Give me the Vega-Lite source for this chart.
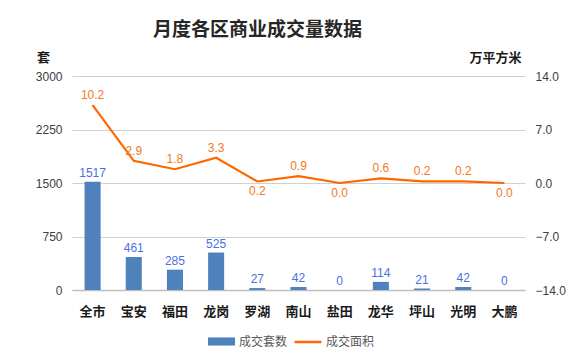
{
  "$schema": "https://vega.github.io/schema/vega-lite/v6.json",
  "width": 453,
  "height": 214,
  "autosize": {"type": "none"},
  "padding": {"left": 72, "top": 76, "right": 52, "bottom": 65},
  "background": "white",
  "title": {
    "text": "月度各区商业成交量数据",
    "font": "Noto Sans CJK SC",
    "fontSize": 19,
    "fontWeight": "bold",
    "color": "#262626",
    "anchor": "middle",
    "dx": -41,
    "offset": 11
  },
  "data": {
    "values": [
      {"district": "全市", "count": 1517, "area": 10.2},
      {"district": "宝安", "count": 461, "area": 2.9},
      {"district": "福田", "count": 285, "area": 1.8},
      {"district": "龙岗", "count": 525, "area": 3.3},
      {"district": "罗湖", "count": 27, "area": 0.2},
      {"district": "南山", "count": 42, "area": 0.9},
      {"district": "盐田", "count": 0, "area": 0.0},
      {"district": "龙华", "count": 114, "area": 0.6},
      {"district": "坪山", "count": 21, "area": 0.2},
      {"district": "光明", "count": 42, "area": 0.2},
      {"district": "大鹏", "count": 0, "area": 0.0}
    ]
  },
  "encoding": {
    "x": {
      "field": "district",
      "type": "nominal",
      "sort": null,
      "scale": {"paddingInner": 0.61, "paddingOuter": 0.305},
      "axis": {
        "title": null,
        "labelAngle": 0,
        "labelFont": "Noto Sans CJK SC",
        "labelFontSize": 13,
        "labelFontWeight": "bold",
        "labelColor": "#1a1a1a",
        "labelPadding": 15,
        "ticks": false,
        "domainColor": "#BFBFBF",
        "domainWidth": 1.5,
        "grid": false
      }
    }
  },
  "layer": [
    {
      "encoding": {
        "y": {
          "field": "count",
          "type": "quantitative",
          "scale": {"domain": [0, 3000], "nice": false},
          "axis": {
            "values": [0, 750, 1500, 2250, 3000],
            "format": "d",
            "title": "套",
            "titleAngle": 0,
            "titleX": -29,
            "titleY": -19,
            "titleAlign": "center",
            "titleBaseline": "middle",
            "titleFont": "Noto Sans CJK SC",
            "titleFontSize": 13,
            "titleFontWeight": "bold",
            "titleColor": "#1a1a1a",
            "labelFont": "Liberation Sans",
            "labelFontSize": 12,
            "labelColor": "#404040",
            "labelPadding": 10,
            "ticks": false,
            "domain": false,
            "grid": true,
            "gridColor": "#D0D0D0",
            "gridWidth": 1
          }
        }
      },
      "layer": [
        {
          "mark": {"type": "bar"},
          "encoding": {
            "color": {
              "datum": "成交套数",
              "type": "nominal",
              "scale": {"range": ["#4F81BD"]},
              "legend": {
                "title": null,
                "orient": "none",
                "legendX": 135,
                "legendY": 251,
                "direction": "horizontal",
                "symbolType": "M-1,-0.3H1V0.3H-1Z",
                "symbolSize": 729,
                "labelFont": "Noto Sans CJK SC",
                "labelFontSize": 12,
                "labelColor": "#595959",
                "labelOffset": 3
              }
            }
          }
        },
        {
          "mark": {
            "type": "text",
            "dy": -9,
            "font": "Liberation Sans",
            "fontSize": 12,
            "color": "#4A6FE3"
          },
          "encoding": {"text": {"field": "count", "type": "quantitative"}}
        }
      ]
    },
    {
      "encoding": {
        "y": {
          "field": "area",
          "type": "quantitative",
          "scale": {"domain": [-14, 14], "nice": false},
          "axis": {
            "orient": "right",
            "values": [-14, -7, 0, 7, 14],
            "format": ".1f",
            "title": "万平方米",
            "titleAngle": 0,
            "titleX": -30,
            "titleY": -19,
            "titleAlign": "center",
            "titleBaseline": "middle",
            "titleFont": "Noto Sans CJK SC",
            "titleFontSize": 13,
            "titleFontWeight": "bold",
            "titleColor": "#1a1a1a",
            "labelFont": "Liberation Sans",
            "labelFontSize": 12,
            "labelColor": "#404040",
            "labelPadding": 10,
            "ticks": false,
            "domain": false,
            "grid": false
          }
        }
      },
      "layer": [
        {
          "mark": {"type": "line", "strokeWidth": 2.2},
          "encoding": {
            "stroke": {
              "datum": "成交面积",
              "type": "nominal",
              "scale": {"range": ["#FF6600"]},
              "legend": {
                "title": null,
                "orient": "none",
                "legendX": 221,
                "legendY": 251,
                "direction": "horizontal",
                "symbolType": "stroke",
                "symbolSize": 729,
                "symbolStrokeWidth": 2.5,
                "labelFont": "Noto Sans CJK SC",
                "labelFontSize": 12,
                "labelColor": "#595959",
                "labelOffset": 3
              }
            }
          }
        },
        {
          "transform": [{"filter": "!(datum.district == '罗湖' || datum.area == 0)"}],
          "mark": {
            "type": "text",
            "dy": -10,
            "font": "Liberation Sans",
            "fontSize": 12,
            "color": "#F47920"
          },
          "encoding": {"text": {"field": "area", "type": "quantitative", "format": ".1f"}}
        },
        {
          "transform": [{"filter": "datum.district == '罗湖' || datum.area == 0"}],
          "mark": {
            "type": "text",
            "dy": 10,
            "font": "Liberation Sans",
            "fontSize": 12,
            "color": "#F47920"
          },
          "encoding": {"text": {"field": "area", "type": "quantitative", "format": ".1f"}}
        }
      ]
    }
  ],
  "resolve": {"scale": {"y": "independent"}},
  "config": {"view": {"stroke": null}}
}
